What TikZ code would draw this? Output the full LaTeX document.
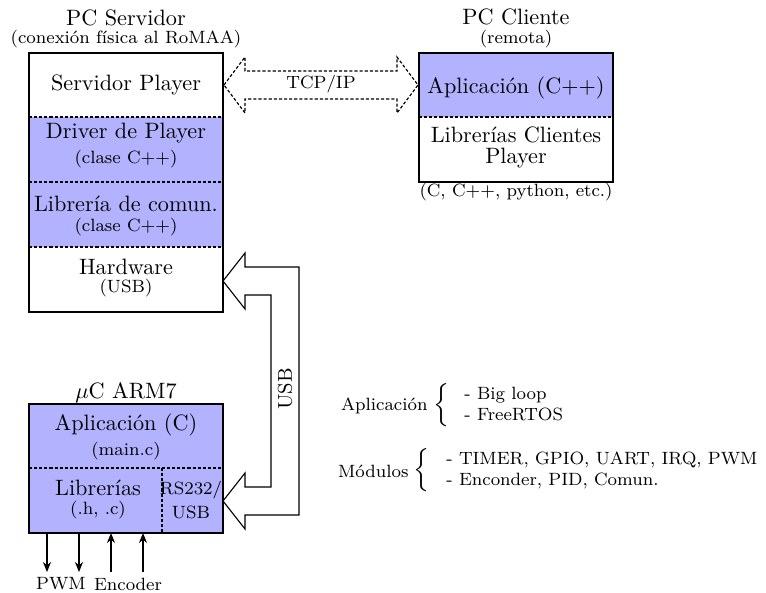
\documentclass[tikz,border=0pt]{standalone}
\usepackage{fontspec}
\usepackage{graphicx}
\usetikzlibrary{arrows.meta}
\newcommand{\groupbrace}{\resizebox*{!}{20pt}{$\Big\{$}}
\begin{document}
\begin{tikzpicture}[x=0.45pt,y=-0.45pt,
  box/.style={line width=0.6pt},
  layer/.style={fill=blue!30},
  sep/.style={dash pattern=on 1.4pt off 0.9pt, line width=0.5pt},
  lbl/.style={inner sep=0pt, font=\normalsize},
  sub/.style={inner sep=0pt, font=\footnotesize},
  sig/.style={line width=0.5pt, -{Stealth[length=4.5pt,width=3.6pt]}},
  link/.style={line width=0.5pt, fill=white, line join=miter},
  tcp/.style={line width=0.5pt, dash pattern=on 1.4pt off 0.9pt, fill=white},
  group/.style={inner sep=0pt, font=\footnotesize},
]
\useasboundingbox (0,0) rectangle (766,593);

% ---------- PC Servidor ----------
\coordinate (srvNW) at (29,53);
\coordinate (srvSE) at (223,312);
\fill[layer] (29,117) rectangle (223,247);
\draw[sep] (29,117) -- (223,117);
\draw[sep] (29,182) -- (223,182);
\draw[sep] (29,247) -- (223,247);
\draw[box] (srvNW) rectangle (srvSE);
\node[lbl] (srvtitle) at (126,18) {PC Servidor};
\node[sub] (srvnote) at (126,39) {(conexión física al RoMAA)};
\node[lbl] (srvplayer) at (126,85) {Servidor Player};
\node[lbl] (driver) at (126,133) {Driver de Player};
\node[sub] (driverc) at (126,159) {(clase C++)};
\node[lbl] (comlib) at (126,204) {Librería de comun.};
\node[sub] (comlibc) at (126,227) {(clase C++)};
\node[lbl] (hw) at (126,267) {Hardware};
\node[sub] (hwusb) at (126,288) {(USB)};

% ---------- PC Cliente ----------
\coordinate (cliNW) at (419,53);
\coordinate (cliSE) at (613,182);
\fill[layer] (419,53) rectangle (613,117);
\draw[sep] (419,117) -- (613,117);
\draw[box] (cliNW) rectangle (cliSE);
\node[lbl] (clititle) at (516,17) {PC Cliente};
\node[sub] (clinote) at (516,39) {(remota)};
\node[lbl] (cliapp) at (516,88) {Aplicación (C++)};
\node[lbl] (clilib) at (516,135) {Librerías Clientes};
\node[lbl] (cliplayer) at (516,158) {Player};
\node[sub] (clilang) at (516,192) {(C, C++, python, etc.)};

% ---------- TCP/IP link ----------
\coordinate (tcpL) at (224,85);
\coordinate (tcpR) at (418,85);
\draw[tcp] (tcpL) -- (245,57) -- (245,71) -- (397,71) -- (397,57) -- (tcpR)
  -- (397,113) -- (397,99) -- (245,99) -- (245,113) -- cycle;
\node[sub] (tcplbl) at (321,84) {TCP/IP};

% ---------- uC ARM7 ----------
\coordinate (mcuNW) at (29,404);
\coordinate (mcuSE) at (223,533);
\fill[layer] (mcuNW) rectangle (mcuSE);
\draw[sep] (29,468) -- (223,468);
\draw[sep] (162,468) -- (162,533);
\draw[box] (mcuNW) rectangle (mcuSE);
\node[lbl] (mcutitle) at (126,393) {$\mu$C ARM7};
\node[lbl] (mcuapp) at (126,425) {Aplicación (C)};
\node[sub] (mcumain) at (126,451) {(main.c)};
\node[lbl] (mculib) at (98,488) {Librerías};
\node[sub] (mculibf) at (98,510) {(.h, .c)};
\node[sub] (mcurs) at (191,490) {RS232/};
\node[sub] (mcuusb) at (191,512) {USB};

% ---------- USB link ----------
\coordinate (usbTop) at (223,281);
\coordinate (usbBot) at (223,501);
\draw[link] (usbTop) -- (245,253) -- (245,267) -- (299,267) -- (299,515)
  -- (245,515) -- (245,529) -- (usbBot) -- (245,473) -- (245,487)
  -- (271,487) -- (271,295) -- (245,295) -- (245,309) -- cycle;
\node[inner sep=0pt, font=\small, rotate=90] (usblbl) at (285,389) {USB};

% ---------- PWM / Encoder signals ----------
\coordinate (pwmA) at (47,572);
\coordinate (pwmB) at (79,572);
\coordinate (encA) at (111,572);
\coordinate (encB) at (143,572);
\draw[sig] (47,533) -- (pwmA);
\draw[sig] (79,533) -- (pwmB);
\draw[sig] (encA) -- (111,533);
\draw[sig] (encB) -- (143,533);
\node[sub] (pwmlbl) at (61,584) {PWM};
\node[sub] (enclbl) at (128,584) {Encoder};

% ---------- software notes ----------
\node[group, anchor=east] (applbl) at (428,406) {Aplicación};
\node[group] (appbrace) at (442,405) {\groupbrace};
\node[group, anchor=west] (applist) at (464,406)
  {\begin{tabular}{@{}l@{}}- Big loop\\- FreeRTOS\end{tabular}};
\node[group, anchor=east] (modlbl) at (409,471) {Módulos};
\node[group] (modbrace) at (422,470) {\groupbrace};
\node[group, anchor=west] (modlist) at (446,471)
  {\begin{tabular}{@{}l@{}}- TIMER, GPIO, UART, IRQ, PWM\\- Enconder, PID, Comun.\end{tabular}};
\end{tikzpicture}
\end{document}
